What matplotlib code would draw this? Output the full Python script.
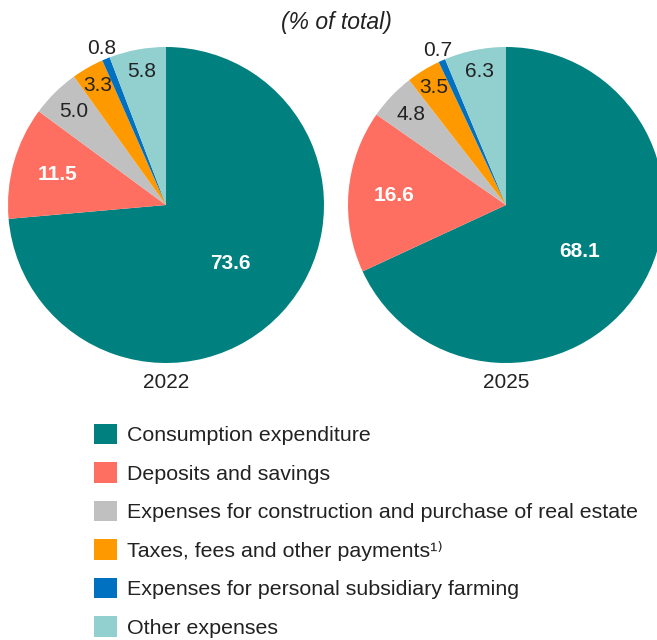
import matplotlib
matplotlib.use("Agg")
import numpy as np
import matplotlib.pyplot as plt
from matplotlib.patches import Patch

plt.rcParams['font.family'] = ['Liberation Sans', 'DejaVu Sans']

# datos
categorias = ["Consumption expenditure",
              "Deposits and savings",
              "Expenses for construction and purchase of real estate",
              "Taxes, fees and other payments\u00b9\u207e",
              "Expenses for personal subsidiary farming",
              "Other expenses"]
anios = ["2022", "2025"]
valores_2022 = [73.6, 11.5, 5.0, 3.3, 0.8, 5.8]
valores_2025 = [68.1, 16.6, 4.8, 3.5, 0.7, 6.3]
colores = ["#00807F", "#FF6F61", "#C0C0C0", "#FF9900", "#0070C0", "#92CFCF"]

# estilo de etiquetas: distancia radial, color, negrita
dist = [0.55, 0.71, 0.83, 0.87, 1.07, 0.86]
col_txt = ["white", "white", "#222222", "#222222", "#222222", "#222222"]
peso = ["bold", "bold", "normal", "normal", "normal", "normal"]

W, H = 657, 640
fig = plt.figure(figsize=(W / 100, H / 100), dpi=100)

R = 158
centros = [(166, 205), (506, 205)]

for (cx, cy), anio, vals in zip(centros, anios, [valores_2022, valores_2025]):
    ax = fig.add_axes([(cx - R) / W, (H - cy - R) / H, 2 * R / W, 2 * R / H])
    wedges, _ = ax.pie(vals, colors=colores, startangle=90, counterclock=False,
                       radius=1, wedgeprops=dict(linewidth=0))
    for w, v, d, c, p in zip(wedges, vals, dist, col_txt, peso):
        ang = np.deg2rad((w.theta1 + w.theta2) / 2)
        ax.text(d * np.cos(ang), d * np.sin(ang), f"{v:.1f}",
                ha="center", va="center", color=c, fontweight=p, fontsize=15)
    ax.set_xlim(-1, 1)
    ax.set_ylim(-1, 1)
    ax.set_aspect("equal")
    ax.axis("off")
    fig.text(cx / W, 1 - 383 / H, anio, ha="center", va="center",
             fontsize=15, color="#222222")

#* titulo
fig.text(336 / W, 1 - 22 / H, "(% of total)", ha="center", va="center",
         fontsize=16.5, style="italic", color="#222222")

#* leyenda
handles = [Patch(facecolor=c, edgecolor="none") for c in colores]
fig.legend(handles, categorias, loc="upper left",
           bbox_to_anchor=(94 / W, 1 - 424 / H), frameon=False,
           fontsize=15.4, handlelength=1.075, handleheight=1.075,
           handletextpad=0.45, labelspacing=0.8, borderaxespad=0,
           borderpad=0, labelcolor="#222222")

fig.savefig("out.png", dpi=100)
